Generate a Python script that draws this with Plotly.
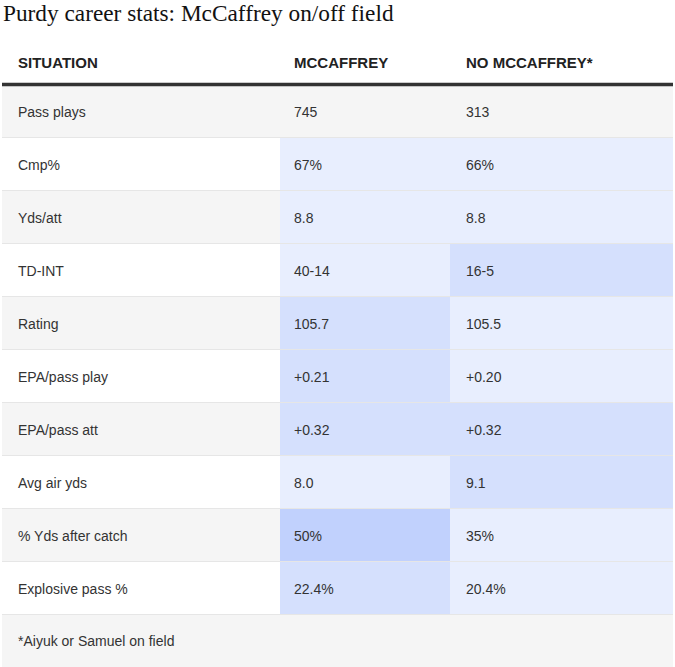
import plotly.graph_objects as go

title = "Purdy career stats: McCaffrey on/off field"
headers = ["SITUATION", "MCCAFFREY", "NO MCCAFFREY*"]
situations = ["Pass plays", "Cmp%", "Yds/att", "TD-INT", "Rating", "EPA/pass play",
              "EPA/pass att", "Avg air yds", "% Yds after catch", "Explosive pass %"]
mccaffrey = ["745", "67%", "8.8", "40-14", "105.7", "+0.21", "+0.32", "8.0", "50%", "22.4%"]
no_mccaffrey = ["313", "66%", "8.8", "16-5", "105.5", "+0.20", "+0.32", "9.1", "35%", "20.4%"]
# shading level per cell (0 = none, 1 = light, 2 = medium, 3 = dark)
mccaffrey_shade = [0, 1, 1, 1, 2, 2, 2, 1, 3, 2]
no_mccaffrey_shade = [0, 1, 1, 2, 1, 1, 2, 2, 1, 1]
footnote = "*Aiyuk or Samuel on field"

W, H = 675, 667
GRAY, WHITE = "#f5f5f5", "#ffffff"
CLEAR = "rgba(0,0,0,0)"
RULE = "#e6e6e6"
SHADES = {1: "#e8eefe", 2: "#d5e0fd", 3: "#c1d1fd"}
BODY_FONT = dict(family="Liberation Sans", size=14, color="#333333")
HEAD_FONT = dict(family="Liberation Sans", size=15, color="#222222")

n = len(situations)
base = [GRAY if i % 2 == 0 else WHITE for i in range(n)]
col1_fill = base + [GRAY]
col2_fill = [SHADES.get(s, base[i]) for i, s in enumerate(mccaffrey_shade)] + [GRAY]
col3_fill = [SHADES.get(s, base[i]) for i, s in enumerate(no_mccaffrey_shade)] + [GRAY]

row_h = 53
x0_px, x1_px = 2, 673

# background table: cell fills only
bg_top, bg_header_h = 40, 44
bg = go.Table(
    domain=dict(x=[x0_px / W, x1_px / W], y=[0, 1 - bg_top / H]),
    columnwidth=[278, 170, 223],
    header=dict(values=["", "", ""], fill_color=WHITE,
                line=dict(color=WHITE, width=0), height=bg_header_h),
    cells=dict(values=[[""] * (n + 1)] * 3,
               fill_color=[col1_fill, col2_fill, col3_fill],
               line=dict(color=CLEAR, width=0), height=row_h),
)

# text table: same rows, placed so the text sits with the reference's insets
txt_top, txt_header_h = 46, 52
txt = go.Table(
    domain=dict(x=[10 / W, 1], y=[0, 1 - txt_top / H]),
    columnwidth=[276, 172, 217],
    header=dict(values=[f"<b>{h}</b>" for h in headers], fill_color=CLEAR,
                line=dict(color=CLEAR, width=0), align="left",
                font=HEAD_FONT, height=txt_header_h),
    cells=dict(values=[situations, mccaffrey, no_mccaffrey], fill_color=CLEAR,
               line=dict(color=CLEAR, width=0), align="left",
               font=BODY_FONT, height=row_h),
)

fig = go.Figure([bg, txt])

# horizontal row separators (full width, no vertical rules), derived from the row grid
first_row_top = bg_top + bg_header_h
shapes = []
for r in range(1, n + 1):
    y_px = first_row_top + r * row_h + 0.5
    shapes.append(dict(type="line", xref="paper", yref="paper", layer="above",
                       x0=x0_px / W, x1=x1_px / W, y0=1 - y_px / H, y1=1 - y_px / H,
                       line=dict(color=RULE, width=1)))
# heavy rule under the header
shapes.append(dict(type="line", xref="paper", yref="paper", layer="above",
                   x0=x0_px / W, x1=x1_px / W,
                   y0=1 - (first_row_top + 0.6) / H, y1=1 - (first_row_top + 0.6) / H,
                   line=dict(color="#333333", width=3.5)))

fig.update_layout(
    width=W, height=H,
    margin=dict(l=0, r=0, t=0, b=0),
    paper_bgcolor="white",
    title=dict(text=title, x=3 / W, xanchor="left", y=1 - 13 / H, yanchor="middle",
               font=dict(family="Liberation Serif", size=23.3, color="#121212")),
    shapes=shapes,
    annotations=[dict(text=footnote, xref="paper", yref="paper", showarrow=False,
                      x=16 / W, y=1 - 641 / H, xanchor="left", yanchor="middle",
                      font=BODY_FONT)],
)

fig.write_html("out.html",
               config={"displayModeBar": False},
               post_script="document.body.style.margin='0';"
                           "document.body.style.overflow='hidden';")
